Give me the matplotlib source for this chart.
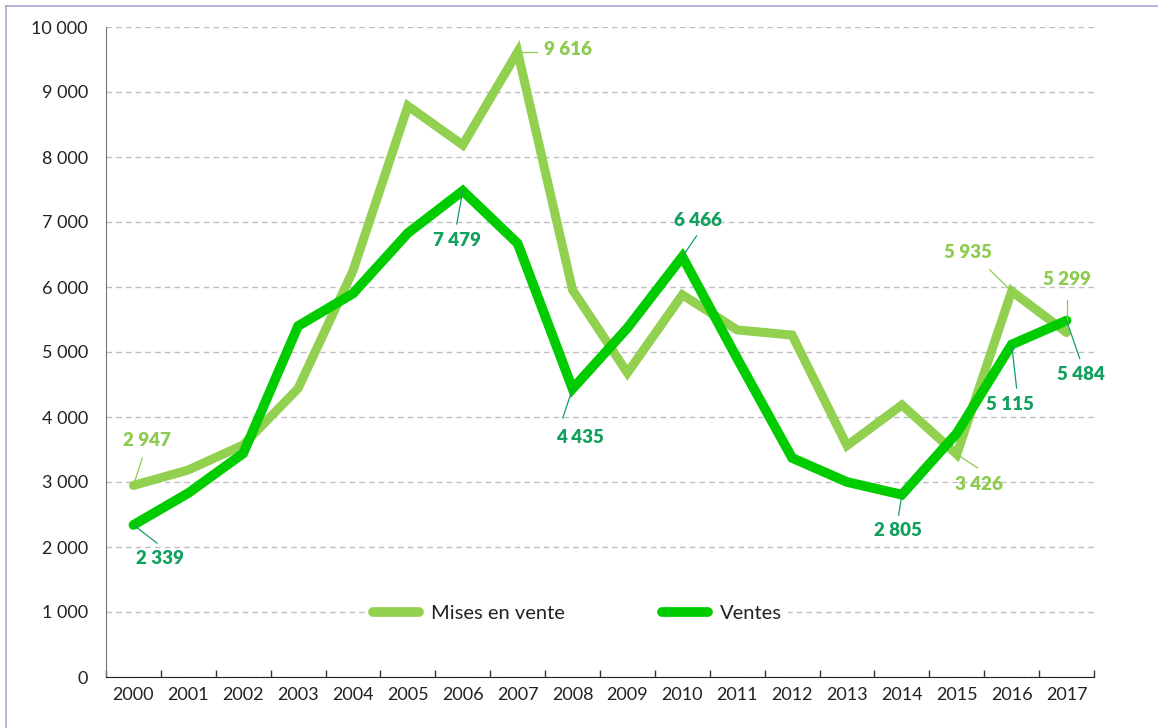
import matplotlib
matplotlib.use("Agg")
import matplotlib.pyplot as plt
from matplotlib.lines import Line2D
from matplotlib.ticker import FixedLocator, FuncFormatter

# ---- data ----
years = ["2000", "2001", "2002", "2003", "2004", "2005", "2006", "2007", "2008",
         "2009", "2010", "2011", "2012", "2013", "2014", "2015", "2016", "2017"]
mises_en_vente = [2947, 3185, 3570, 4440, 6250, 8785, 8185, 9616, 5954,
                  4680, 5880, 5340, 5260, 3560, 4185, 3426, 5935, 5299]
ventes = [2339, 2830, 3440, 5400, 5900, 6830, 7479, 6670, 4435,
          5370, 6466, 4900, 3370, 3000, 2805, 3750, 5115, 5484]
series_names = ["Mises en vente", "Ventes"]
y_ticks = [0, 1000, 2000, 3000, 4000, 5000, 6000, 7000, 8000, 9000, 10000]

# indices of labelled points
mises_labelled = [0, 7, 15, 16, 17]
ventes_labelled = [0, 6, 8, 10, 14, 16, 17]

# label placement (x offset, y offset in data units) for text and leader end
mises_label_pos = {0: ((0.25, 690), (0.16, 420)),
                   7: ((0.48, 35), (0.35, 0)),
                   15: ((0.4, -470), (0.38, -210)),
                   16: ((-0.8, 590), (-0.4, 330)),
                   17: ((0.0, 810), (0.0, 500))}
ventes_label_pos = {0: ((0.49, -510), (0.43, -280)),
                    6: ((-0.11, -770), (-0.11, -510)),
                    8: ((0.13, -745), (-0.18, -450)),
                    10: ((0.28, 550), (0.26, 320)),
                    14: ((-0.07, -545), (-0.06, -315)),
                    16: ((-0.03, -930), (0.09, -670)),
                    17: ((0.26, -825), (0.24, -585))}

c_mises = "#92D050"
c_ventes = "#00CC00"
c_mises_lab = "#8CCB4E"
c_ventes_lab = "#12A05E"

plt.rcParams['font.family'] = ['Lato', 'DejaVu Sans']

fig = plt.figure(figsize=(11.58, 7.28), dpi=100)
ax = fig.add_axes([106 / 1158, 1 - 677 / 728, (1094 - 106) / 1158, (677 - 27) / 728])

x = list(range(len(years)))
ax.plot(x, mises_en_vente, color=c_mises, lw=6.5, solid_joinstyle='miter',
        solid_capstyle='round', label=series_names[0], zorder=3)
ax.plot(x, ventes, color=c_ventes, lw=7.0, solid_joinstyle='miter',
        solid_capstyle='round', label=series_names[1], zorder=4)

ax.set_xlim(-0.5, len(years) - 0.5)
ax.set_ylim(0, 10000)

ax.set_yticks(y_ticks)
ax.yaxis.set_major_formatter(FuncFormatter(lambda v, p: f"{int(v):,}".replace(",", " ")))
ax.tick_params(axis='y', length=0, pad=13, labelsize=13, labelcolor='#222222')

ax.set_xticks(x)
ax.set_xticklabels(years)
ax.xaxis.set_minor_locator(FixedLocator([i - 0.5 for i in range(len(years) + 1)]))
ax.tick_params(axis='x', which='major', length=0, pad=7, labelsize=13, labelcolor='#222222')
ax.tick_params(axis='x', which='minor', length=5, direction='in', color='#333333', width=1)

ax.grid(axis='y', color='#BFBFBF', linestyle=(0, (4, 3)), linewidth=1)
ax.set_axisbelow(True)
for s in ['top', 'right']:
    ax.spines[s].set_visible(False)
ax.spines['left'].set_color('#777777')
ax.spines['bottom'].set_color('#222222')

def annotate(values, idxs, pos, color, left_idx=()):
    for i in idxs:
        (tx, ty), (lx, ly) = pos[i]
        v = values[i]
        ax.plot([i, i + lx], [v, v + ly], color=color, lw=0.9, zorder=5)
        ax.text(i + tx, v + ty, f"{v:,}".replace(",", " "), color=color,
                fontsize=13.5, fontweight='heavy',
                ha='left' if i in left_idx else 'center',
                va='center', zorder=6)

annotate(mises_en_vente, mises_labelled, mises_label_pos, c_mises_lab, left_idx=(7,))
annotate(ventes, ventes_labelled, ventes_label_pos, c_ventes_lab)

leg = ax.legend(loc='center', bbox_to_anchor=(0.477, 0.098), ncol=2, frameon=True,
                fontsize=14.5, handlelength=2.3, columnspacing=4.8, handletextpad=0.6,
                borderpad=0.3)
leg.get_frame().set_edgecolor('none')
leg.get_frame().set_facecolor('white')
leg.get_frame().set_alpha(1)
for t in leg.get_texts():
    t.set_color('#222222')
for h in leg.get_lines():
    h.set_linewidth(7)
    h.set_solid_capstyle('round')

# figure border (left and top visible)
bc = '#A8A8D8'
fig.add_artist(Line2D([6 / 1158, 6 / 1158], [0, 1 - 6 / 728], color=bc, lw=1.2))
fig.add_artist(Line2D([6 / 1158, 1], [1 - 6 / 728, 1 - 6 / 728], color=bc, lw=1.2))

fig.savefig("out.png", dpi=100)
